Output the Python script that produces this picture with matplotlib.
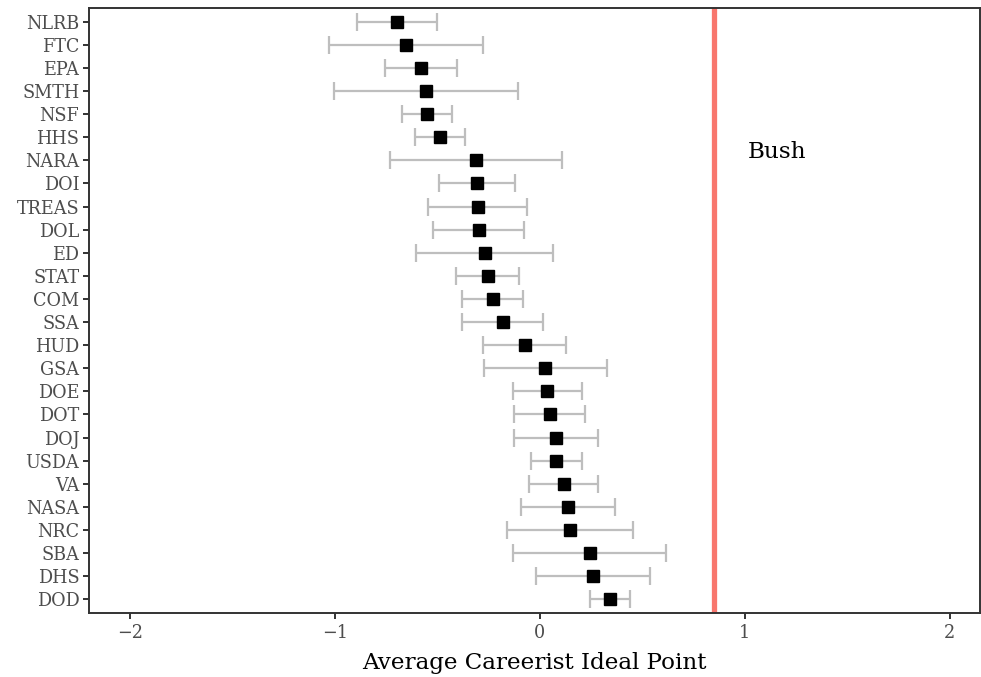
import matplotlib
matplotlib.use("Agg")
import matplotlib.pyplot as plt

agencies = ["NLRB", "FTC", "EPA", "SMTH", "NSF", "HHS", "NARA", "DOI", "TREAS", "DOL",
            "ED", "STAT", "COM", "SSA", "HUD", "GSA", "DOE", "DOT", "DOJ", "USDA",
            "VA", "NASA", "NRC", "SBA", "DHS", "DOD"]
means = [-0.698, -0.655, -0.581, -0.555, -0.550, -0.489, -0.313, -0.308, -0.304, -0.297,
         -0.269, -0.254, -0.230, -0.182, -0.073, 0.027, 0.034, 0.049, 0.077, 0.077,
         0.116, 0.136, 0.145, 0.243, 0.258, 0.341]
lower = [-0.892, -1.027, -0.757, -1.005, -0.674, -0.609, -0.733, -0.494, -0.546, -0.520,
         -0.605, -0.408, -0.380, -0.380, -0.276, -0.271, -0.130, -0.125, -0.125, -0.045,
         -0.054, -0.093, -0.163, -0.130, -0.019, 0.243]
upper = [-0.502, -0.280, -0.404, -0.106, -0.428, -0.365, 0.108, -0.121, -0.064, -0.080,
         0.064, -0.102, -0.082, 0.014, 0.129, 0.325, 0.203, 0.219, 0.284, 0.203,
         0.284, 0.367, 0.456, 0.613, 0.535, 0.437]
bush_point = 0.85
bush_label = "Bush"
xticks = [-2, -1, 0, 1, 2]
xlabel = "Average Careerist Ideal Point"

plt.rcParams['font.family'] = ['DejaVu Serif']

fig = plt.figure(figsize=(9.81, 6.77), dpi=100)
ax = fig.add_axes([89/981, 1 - 613/677, (980-89)/981, (613-8)/677])

n = len(agencies)
ys = [n - 1 - i for i in range(n)]
xerr = [[m - l for m, l in zip(means, lower)], [u - m for m, u in zip(means, upper)]]
ax.errorbar(means, ys, xerr=xerr, fmt='none', ecolor='#bebebe', elinewidth=1.6,
            capsize=6.5, capthick=1.6, zorder=2)
ax.plot(means, ys, 's', color='black', markersize=8, zorder=3)
ax.axvline(bush_point, color='#F8766D', linewidth=3.8, zorder=1)
ax.text(1.015, 19.35, bush_label, fontsize=16.7, va='center', ha='left', color='black')

ax.set_xlim(-2.2, 2.147)
ax.set_ylim(-0.6, n - 1 + 0.6)
ax.set_yticks(ys)
ax.set_yticklabels(agencies)
ax.set_xticks(xticks)
ax.set_xticklabels(["\u22122", "\u22121", "0", "1", "2"])
ax.set_xlabel(xlabel, fontsize=16.6, color='black', labelpad=7)

for s in ax.spines.values():
    s.set_color('#333333')
    s.set_linewidth(1.4)
ax.tick_params(axis='both', colors='#333333', length=4.5, width=1.4, labelsize=12.7,
               labelcolor='#4D4D4D', pad=2.5)
ax.tick_params(axis='x', pad=3.5)

fig.savefig("out.png", dpi=100)
